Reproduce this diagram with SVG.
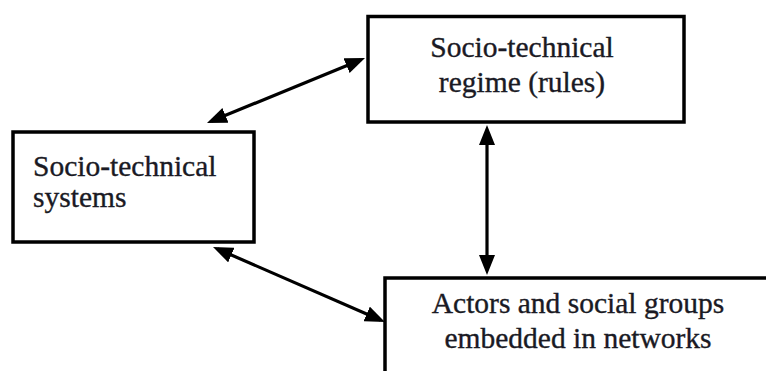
<svg xmlns="http://www.w3.org/2000/svg" width="766" height="371" viewBox="0 0 766 371">
<style>
.box{fill:#fff;stroke:#000;stroke-width:3.5}
.lbl{font-family:"Liberation Serif","Times New Roman",serif;font-size:29.5px;fill:#1a1a24;stroke:#1a1a24;stroke-width:0.35}
.conn{stroke:#000;stroke-width:3.2;fill:none}
</style>
<defs>
<marker id="ah" markerUnits="userSpaceOnUse" viewBox="0 0 20 16" markerWidth="20" markerHeight="16" refX="15" refY="8" orient="auto-start-reverse">
<path d="M0,0 L20,8 L0,16 z" fill="#000"/>
</marker>
</defs>
<rect width="766" height="371" fill="#fff"/>
<g id="regime">
<rect class="box" x="368" y="16.5" width="316" height="105.5"/>
<text class="lbl" x="522" y="57" text-anchor="middle">Socio-technical</text>
<text class="lbl" x="522" y="92" text-anchor="middle">regime (rules)</text>
</g>
<g id="systems">
<rect class="box" x="13" y="132" width="241" height="110"/>
<text class="lbl" x="33" y="176">Socio-technical</text>
<text class="lbl" x="33" y="207">systems</text>
</g>
<g id="actors">
<rect class="box" x="385" y="278" width="400" height="120"/>
<text class="lbl" x="578" y="313" text-anchor="middle">Actors and social groups</text>
<text class="lbl" x="578" y="348" text-anchor="middle">embedded in networks</text>
</g>
<g id="connectors">
<line class="conn" x1="211.6" y1="121.1" x2="360.4" y2="59.9" marker-start="url(#ah)" marker-end="url(#ah)"/>
<line class="conn" x1="217.6" y1="249" x2="380.4" y2="320" marker-start="url(#ah)" marker-end="url(#ah)"/>
<line class="conn" x1="487" y1="130" x2="487" y2="270" marker-start="url(#ah)" marker-end="url(#ah)"/>
</g>
</svg>
